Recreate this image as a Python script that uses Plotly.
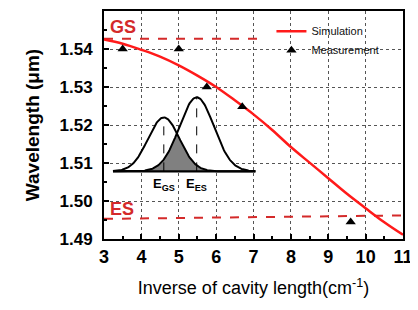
import numpy as np
import plotly.graph_objects as go

# Simulation curve
sim_x = [3.0, 3.5, 4.0, 4.5, 5.0, 5.5, 6.0, 6.5, 7.0, 7.5, 8.0, 8.5, 9.0, 9.5, 10.0, 10.5, 11.0]
sim_y = [1.5425, 1.5414, 1.5398, 1.5380, 1.5357, 1.5330, 1.5300, 1.5265, 1.5228, 1.5187, 1.5142, 1.5101, 1.5060, 1.5019, 1.4981, 1.4944, 1.4911]

# Measurement points
meas_x = [3.5, 5.0, 5.75, 6.7, 9.6]
meas_y = [1.5400, 1.5400, 1.5300, 1.5248, 1.4945]

# Reference levels
gs_x = [3.0, 7.15]
gs_y = [1.5427, 1.5427]
es_x = [3.0, 11.0]
es_y = [1.4953, 1.4962]

# Inset schematic parameters (two energy distributions)
inset_base = 1.5078
inset_x0, inset_x1 = 3.24, 7.05
gs_center, gs_sigma, gs_amp = 4.60, 0.42, 0.0142
es_center, es_sigma, es_amp = 5.48, 0.46, 0.0195

RED = "#ff1a1a"
DRED = "#d42a2a"
FONT = "Liberation Sans, Arial, sans-serif"

xs = np.linspace(inset_x0, inset_x1, 200)
g_gs = inset_base + gs_amp * np.exp(-0.5 * ((xs - gs_center) / gs_sigma) ** 2)
g_es = inset_base + es_amp * np.exp(-0.5 * ((xs - es_center) / es_sigma) ** 2)
g_min = np.minimum(g_gs, g_es)

fig = go.Figure()

def closed(yv):
    return (list(xs) + [xs[-1], xs[0]], list(yv) + [inset_base, inset_base])

# white fills
for yv in (g_gs, g_es):
    cx, cy = closed(yv)
    fig.add_trace(go.Scatter(x=cx, y=cy, mode="lines", fill="toself", fillcolor="white",
                             line=dict(width=0), hoverinfo="skip", showlegend=False))
cx, cy = closed(g_min)
fig.add_trace(go.Scatter(x=cx, y=cy, mode="lines", fill="toself", fillcolor="#808080",
                         line=dict(width=0), hoverinfo="skip", showlegend=False))
for yv in (g_gs, g_es):
    fig.add_trace(go.Scatter(x=xs, y=yv, mode="lines", line=dict(color="black", width=2),
                             hoverinfo="skip", showlegend=False))
# center dashed verticals
for c, a in ((gs_center, gs_amp), (es_center, es_amp)):
    fig.add_trace(go.Scatter(x=[c, c], y=[inset_base, inset_base + a], mode="lines",
                             line=dict(color="black", width=1, dash="dash"),
                             hoverinfo="skip", showlegend=False))
# baseline
fig.add_trace(go.Scatter(x=[inset_x0, inset_x1], y=[inset_base, inset_base], mode="lines",
                         line=dict(color="black", width=2.2), hoverinfo="skip", showlegend=False))

# GS / ES dashed levels
fig.add_trace(go.Scatter(x=gs_x, y=gs_y, mode="lines", line=dict(color=DRED, width=2, dash="dash"),
                         showlegend=False))
fig.add_trace(go.Scatter(x=es_x, y=es_y, mode="lines", line=dict(color=DRED, width=2, dash="dash"),
                         showlegend=False))

# Simulation
fig.add_trace(go.Scatter(x=sim_x, y=sim_y, mode="lines", name="Simulation",
                         line=dict(color=RED, width=2.5, shape="spline")))
# Measurement
fig.add_trace(go.Scatter(x=meas_x, y=meas_y, mode="markers", name="Measurement",
                         marker=dict(symbol="triangle-up", color="black", size=9)))

fig.add_annotation(x=3.11, y=1.5459, text="<b>GS</b>", showarrow=False, xanchor="left",
                   font=dict(family=FONT, size=18, color=DRED))
fig.add_annotation(x=3.11, y=1.4978, text="<b>ES</b>", showarrow=False, xanchor="left",
                   font=dict(family=FONT, size=18, color=DRED))
fig.add_annotation(x=gs_center, y=1.5043, text="<b>E<sub>GS</sub></b>", showarrow=False,
                   font=dict(family=FONT, size=13, color="black"))
fig.add_annotation(x=es_center, y=1.5043, text="<b>E<sub>ES</sub></b>", showarrow=False,
                   font=dict(family=FONT, size=13, color="black"))

axis_common = dict(showline=True, linecolor="black", linewidth=2, mirror=True,
                   ticks="inside", tickcolor="black", ticklen=5, tickwidth=1.5,
                   showgrid=True, gridcolor="#555555", griddash="dot", gridwidth=1.4,
                   zeroline=False, automargin=False)

fig.update_xaxes(range=[3, 11], dtick=1, tick0=3,
                 tickfont=dict(family=FONT, size=18, color="black", weight="bold"),
                 title=dict(text="Inverse of cavity length(cm<sup>-1</sup>)",
                            font=dict(family=FONT, size=18, color="black"), standoff=16),
                 minor=dict(dtick=0.5, ticks="inside", ticklen=3, tickcolor="black", showgrid=False),
                 **axis_common)
fig.update_yaxes(range=[1.49, 1.55], dtick=0.01, tickformat=".2f",
                 tickfont=dict(family=FONT, size=17, color="black", weight="bold"),
                 ticklabelstandoff=6,
                 title=dict(text="<b>Wavelength (μm)</b>",
                            font=dict(family=FONT, size=19, color="black"), standoff=15),
                 minor=dict(dtick=0.005, ticks="inside", ticklen=3, tickcolor="black", showgrid=False),
                 **axis_common)

# page body has an 8px default margin, so the figure is sized/offset to compensate
fig.update_layout(
    width=410, height=302,
    margin=dict(l=96, r=15, t=3, b=71, autoexpand=False),
    paper_bgcolor="white", plot_bgcolor="white",
    font=dict(family=FONT, color="black"),
    legend=dict(x=0.56, y=0.975, xanchor="left", yanchor="top",
                bgcolor="rgba(0,0,0,0)", font=dict(family=FONT, size=11, color="#111"),
                itemwidth=30, tracegroupgap=0),
)

fig.write_html("out.html")
